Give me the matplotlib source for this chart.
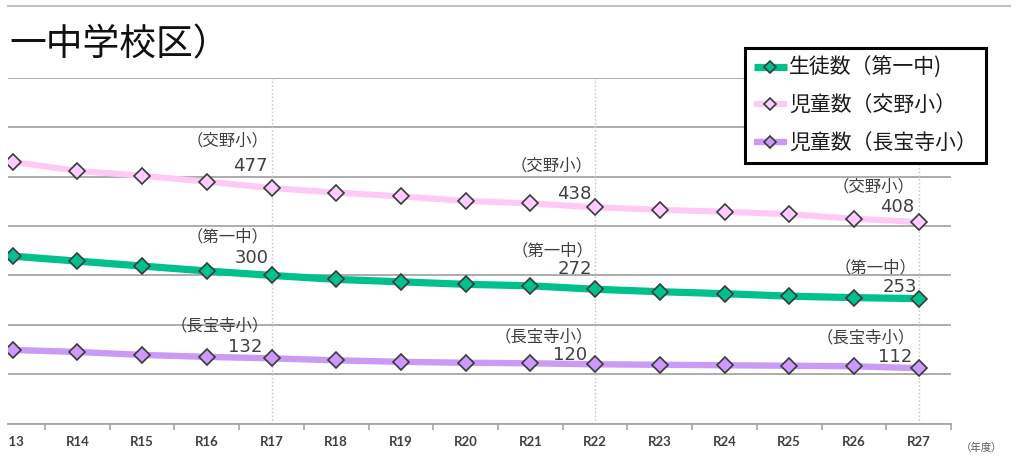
import matplotlib
matplotlib.use("Agg")
import matplotlib.pyplot as plt
from matplotlib.lines import Line2D
from matplotlib.transforms import Bbox, TransformedBbox

# ---------------- data ----------------
years = ["R13", "R14", "R15", "R16", "R17", "R18", "R19", "R20",
         "R21", "R22", "R23", "R24", "R25", "R26", "R27"]
daiichi_students = [339, 329, 319, 309, 300, 292, 287, 282, 279, 272, 267, 263, 258, 255, 253]
katano_pupils = [530, 512, 502, 490, 477, 468, 460, 451, 446, 438, 433, 429, 424, 415, 408]
chohoji_pupils = [149, 145, 139, 135, 132, 128, 125, 123, 122, 120, 119, 118, 117, 116, 112]
series_names = ["生徒数（第一中)", "児童数（交野小）", "児童数（長宝寺小）"]
short_names = ["（第一中）", "（交野小）", "（長宝寺小）"]
label_years = ["R17", "R22", "R27"]
title_text = "一中学校区）"
unit_text = "（年度）"
y_ticks = [0, 100, 200, 300, 400, 500, 600, 700]

# ---------------- style ----------------
W, H = 1018, 465
JP = ["Noto Sans CJK JP", "DejaVu Sans"]
plt.rcParams["font.family"] = JP

green_line, green_fill = "#00C18C", "#00C18C"
pink_line, pink_fill = "#FFC9F6", "#FFCCFF"
purple_line, purple_fill = "#C99BF6", "#CC99FF"
edge = "#3A3A3A"
grid_c = "#A6A6A6"

fig = plt.figure(figsize=(W / 100, H / 100), dpi=100)
ax_left, ax_right, ax_top, ax_bottom = 8, 951, 78, 423.5
ax = fig.add_axes([ax_left / W, (H - ax_bottom) / H,
                   (ax_right - ax_left) / W, (ax_bottom - ax_top) / H])

x = list(range(len(years)))

for s in ["top", "left", "right"]:
    ax.spines[s].set_visible(False)
ax.spines["bottom"].set_color(grid_c)
ax.spines["bottom"].set_linewidth(1.3)

ax.set_yticks(y_ticks)
ax.tick_params(axis="y", length=0, labelleft=False)
ax.yaxis.grid(True, color=grid_c, linewidth=1.3)
ax.set_axisbelow(True)

ax.set_xticks(x)
ax.set_xticklabels(years, fontfamily="Lato", fontweight="bold", fontsize=9.5, color="#404040")
ax.set_xticks([i - 0.5 for i in range(len(years) + 1)], minor=True)
ax.tick_params(axis="x", which="major", length=0, pad=9)
ax.tick_params(axis="x", which="minor", length=4, width=1.2, color=grid_c, direction="out")

ax.set_xlim(-0.072, len(years) - 0.5)
ax.set_ylim(y_ticks[0], y_ticks[-1])

# clip the leftmost tick label at the picture's left crop
lbl0 = ax.get_xticklabels()[0]
lbl0.set_clip_box(TransformedBbox(Bbox.from_extents(9 / W, 0, 1, 1), fig.transFigure))
lbl0.set_clip_on(True)

# dotted guides at labelled years
guide_idx = [years.index(y) for y in label_years]
ax.vlines(guide_idx, y_ticks[0], y_ticks[-1], colors="#C8C8C8",
          linestyles=(0, (1.2, 1.5)), linewidth=1.0, zorder=1)

series = [daiichi_students, katano_pupils, chohoji_pupils]
line_cols = [green_line, pink_line, purple_line]
fill_cols = [green_fill, pink_fill, purple_fill]
lws = [5.2, 4.4, 4.6]
handles = []
for vals, lc, fc, lw, name in zip(series, line_cols, fill_cols, lws, series_names):
    h, = ax.plot(x, vals, color=lc, linewidth=lw, marker="D", markersize=8.6,
                 markerfacecolor=fc, markeredgecolor=edge, markeredgewidth=1.2,
                 zorder=3, label=name, solid_capstyle="butt")
    handles.append(h)

# label offsets in pixels (dx of right edge, dy of centre) : [series][label_year] -> (name, number)
offsets = [
    [((-3, 39), (-3, 17)), ((-2, 38), (-3, 20)), ((-2, 31), (-2, 12))],
    [((-3, 47), (-4, 22)), ((-3, 41), (-4, 13)), ((-4, 35), (-4, 15))],
    [((-3, 32), (-9, 11)), ((-2, 27), (-8, 9)), ((-4, 30), (-6, 11))],
]
for si, vals in enumerate(series):
    for li, yr in enumerate(label_years):
        i = years.index(yr)
        (nd, num) = offsets[si][li]
        ax.annotate(short_names[si], (i, vals[i]), xytext=nd, textcoords="offset pixels",
                    ha="right", va="center", fontsize=11.8, color="#404040", zorder=4)
        ax.annotate(str(vals[i]), (i, vals[i]), xytext=num, textcoords="offset pixels",
                    ha="right", va="center", fontsize=13, color="#404040",
                    fontfamily="DejaVu Sans", zorder=4)

leg = ax.legend(handles=handles, loc="upper left",
                bbox_to_anchor=(745 / W, 1 - 48 / H), bbox_transform=fig.transFigure,
                prop={"family": JP, "size": 15}, frameon=True, fancybox=False,
                edgecolor="black", framealpha=1, borderaxespad=0, borderpad=0.42,
                handlelength=1.6, handletextpad=0.1, labelspacing=0.76, markerscale=0.7)
leg.get_frame().set_linewidth(2.2)
leg.set_zorder(10)
for t in leg.get_texts():
    t.set_color("#1A1A1A")

fig.text(9 / W, 1 - 45 / H, title_text, fontsize=26.5, ha="left", va="center", color="#111111")
fig.text(982 / W, 1 - 448 / H, unit_text, fontsize=7.5, ha="center", va="center", color="#595959")
fig.add_artist(Line2D([8 / W, 1010 / W], [1 - 6 / H, 1 - 6 / H], color="#C0C0C0",
                      linewidth=1.5, transform=fig.transFigure))

fig.savefig("out.png", dpi=100)
